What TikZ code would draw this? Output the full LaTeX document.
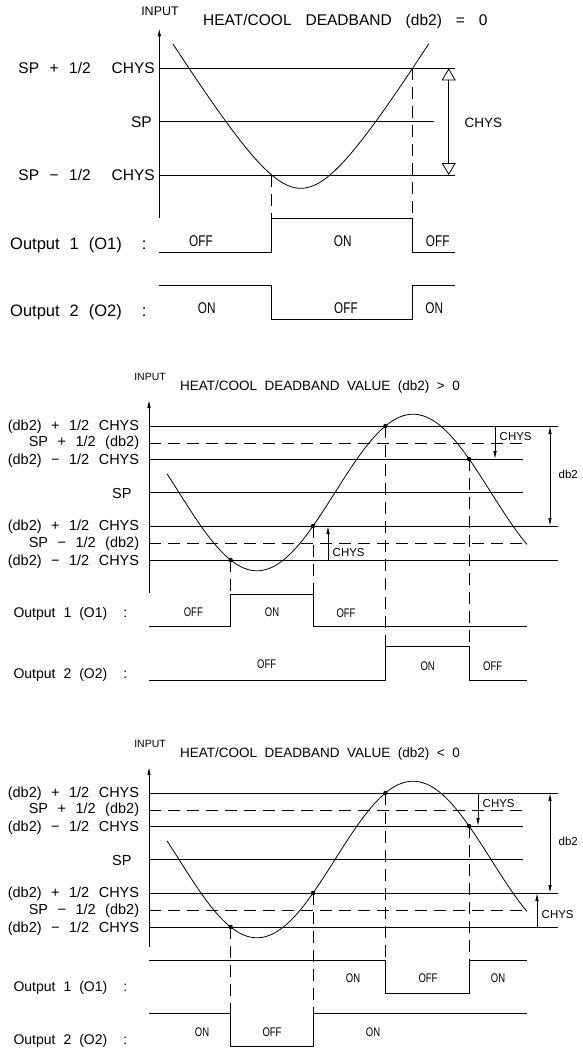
\documentclass[tikz,border=0pt]{standalone}
\usepackage{fontspec}
\setmainfont{Liberation Sans}
\newfontfamily\narrowfont[FakeStretch=0.76]{Liberation Sans}
\usetikzlibrary{arrows.meta}
\tikzset{
  >={Latex[length=8pt,width=3.5pt]},
  wire/.style={line width=0.8pt},
  dashline/.style={line width=0.8pt,dash pattern=on 12pt off 7pt},
  hyst/.style={wire,{Triangle[open,length=12pt,width=14pt]}-{Triangle[open,length=12pt,width=14pt]}},
  txt/.style={inner sep=0pt,font={\fontsize{#1}{#1}\selectfont}},
  gap/.style={execute at begin node={\spaceskip=#1\relax}},
  inputA/.style={txt=12.5,anchor=base},
  inputB/.style={txt=10.5,anchor=base},
  titleA/.style={txt=15.5,gap=14pt,anchor=base west},
  titleB/.style={txt=13.5,gap=7.5pt,anchor=base west},
  lvlA/.style={txt=15.5,gap=10.5pt,anchor=base east},
  lvlB/.style={txt=14.5,gap=9.5pt,anchor=base east},
  outA/.style={txt=16.5,gap=10pt,anchor=base west},
  outB/.style={txt=14,gap=8pt,anchor=base west},
  tagA/.style={txt=13.5,anchor=base west},
  tagB/.style={txt=11.5,anchor=base west},
  stateA/.style={inner sep=0pt,anchor=base,font={\narrowfont\fontsize{15.5}{15.5}\selectfont}},
  stateB/.style={inner sep=0pt,anchor=base,font={\narrowfont\fontsize{12.5}{12.5}\selectfont}},
}
\begin{document}
\begin{tikzpicture}[x=1pt,y=-1pt]
  \useasboundingbox (0,0) rectangle (582,1049);

  % ---- deadband = 0
  \draw[wire,->] (159.3,218.3) -- (159.3,28.3);
  \node[inputA] (in1) at (160,16) {INPUT};
  \node[titleA] (title1) at (203,25.7) {HEAT/COOL DEADBAND (db2) = 0};
  \draw[wire] (159.3,68.3) -- (455,68.3) (159.3,121.7) -- (433.7,121.7) (159.3,175) -- (455,175);
  \node[lvlA] (hi1) at (155,74) {SP + 1/2~~CHYS};
  \node[lvlA] (sp1) at (152,127.3) {SP};
  \node[lvlA] (lo1) at (155,180.7) {SP − 1/2~~CHYS};
  \draw[wire] plot[domain=-128:128,samples=81,smooth]
    ({300.8+\x},{188.3-1.63*(10*sqrt(23.04+(\x/10)*(\x/10))-48)});
  \draw[dashline] (271.6,175) -- (271.6,218.3) (412.5,68.3) -- (412.5,218.3);
  \draw[hyst] (448.7,68.3) -- (448.7,175);
  \node[tagA] (chys1) at (464.3,127.3) {CHYS};
  \draw[wire] (159.3,252.3) -| (271.6,218.3) -| (412.5,252.3) -- (455,252.3);
  \draw[wire] (159.3,285.7) -| (271.6,319) -| (412.5,285.7) -- (455,285.7);
  \node[outA] (out1a) at (10,249) {Output 1 (O1)~~:};
  \node[outA] (out2a) at (10,316) {Output 2 (O2)~~:};
  \foreach \px/\py/\s [count=\i] in {201/246/OFF, 342.7/246/ON, 437.7/246/OFF,
      206.7/313.3/ON, 346/313.3/OFF, 434.3/313.3/ON}
    \node[stateA] (sa\i) at (\px,\py) {\s};

  % ---- deadband > 0 and < 0
  \foreach \dy/\cmp/\ab/\n/\ea/\eb/\ua/\la/\lb in
      {0/>/593.3/2/594/646.7/495/328/556.7, 367/</580/3/646.3/593/478/537/551.3} {
    \draw[wire,->] (149,\ab+\dy) -- (149,400+\dy);
    \node[inputB] (in\n) at (150,380.7+\dy) {INPUT};
    \node[titleB] (title\n) at (180,390.7+\dy) {HEAT/COOL DEADBAND VALUE (db2) \cmp{} 0};
    \foreach \y/\e in {426/557.7, 459/523.3, 492.5/523.3, 526/557.7, 560/557.7}
      \draw[wire] (149,\y+\dy) -- (\e,\y+\dy);
    \draw[dashline] (149,443+\dy) -- (524.3,443+\dy) (149,543+\dy) -- (527,543+\dy);
    \foreach \y/\t [count=\k] in {430/{(db2) + 1/2 CHYS}, 446.7/{SP + 1/2 (db2)},
        464/{(db2) − 1/2 CHYS}, 530.7/{(db2) + 1/2 CHYS}, 547.3/{SP − 1/2 (db2)},
        565/{(db2) − 1/2 CHYS}}
      \node[lvlB] (lv\n\k) at (139.3,\y+\dy) {\t};
    \node[lvlB] (sp\n) at (131.7,498.3+\dy) {SP};
    \draw[wire] plot[domain=167:527,samples=91,smooth]
      (\x,{492.5+\dy+78.3*cos((\x-257)*1.1538)});
    \foreach \px/\py/\pe in {230.6/560/\ea, 313/526/\ea, 385.4/426/\eb, 469/459/\eb} {
      \draw[dashline] (\px,\py+\dy) -- (\px,\pe+\dy);
      \fill (\px,\py+\dy) circle (2.2pt);
    }
    \draw[wire,<->] (550,426+\dy) -- (550,526+\dy);
    \node[tagB] (db\n) at (558.5,478+\dy) {db2};
    \draw[wire,->] (\ua,426+\dy) -- (\ua,459+\dy);
    \node[tagB] (chu\n) at (\ua+4.5,440+\dy) {CHYS};
    \draw[wire,->] (\la,560+\dy) -- (\la,526+\dy);
    \node[tagB] (chl\n) at (\la+4.5,\lb+\dy) {CHYS};
  }

  % outputs, deadband > 0
  \draw[wire] (149,626.7) -| (230.6,594) -| (313,626.7) -- (527,626.7);
  \draw[wire] (149,680) -| (385.4,646.7) -| (469,680) -- (527,680);
  \node[outB] (out1b) at (13.3,617.7) {Output 1 (O1)~~:};
  \node[outB] (out2b) at (13.3,678) {Output 2 (O2)~~:};
  \foreach \px/\py/\s [count=\i] in {193.3/616.7/OFF, 272/616.7/ON, 346/617/OFF,
      266.7/668/OFF, 427.7/670/ON, 492.7/670/OFF}
    \node[stateB] (sb\i) at (\px,\py) {\s};

  % outputs, deadband < 0
  \draw[wire] (149,960) -| (385.4,993.3) -| (469,960) -- (527,960);
  \draw[wire] (149,1013.3) -| (230.6,1046.7) -| (313,1013.3) -- (527,1013.3);
  \node[outB] (out1c) at (13.3,991.7) {Output 1 (O1)~~:};
  \node[outB] (out2c) at (13.3,1044) {Output 2 (O2)~~:};
  \foreach \px/\py/\s [count=\i] in {353/982.7/ON, 428/982.7/OFF, 498/982.7/ON,
      202/1036.7/ON, 272/1036.7/OFF, 373/1036.7/ON}
    \node[stateB] (sc\i) at (\px,\py) {\s};
\end{tikzpicture}
\end{document}
